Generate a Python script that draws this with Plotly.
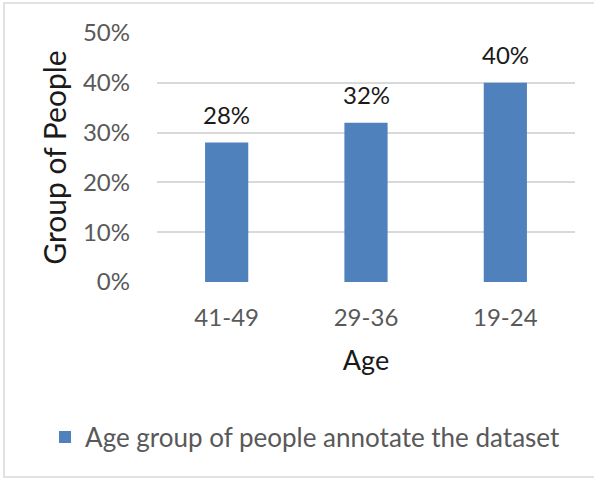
import plotly.graph_objects as go

categories = ["41-49", "29-36", "19-24"]
values = [0.28, 0.32, 0.40]
labels = ["28%", "32%", "40%"]
series_name = "Age group of people annotate the dataset"
y_ticks = [0, 0.1, 0.2, 0.3, 0.4, 0.5]
y_tick_labels = ["0%", "10%", "20%", "30%", "40%", "50%"]

FONT = "Lato"
BAR = "#4F81BD"
GRID = "#D9D9D9"
TICK = "#595959"

fig = go.Figure()
fig.add_trace(go.Bar(
    x=categories, y=values, name=series_name,
    marker=dict(color=BAR, line=dict(width=0)),
    width=0.31, showlegend=True,
))

for c, v, t in zip(categories, values, labels):
    fig.add_annotation(x=c, y=v, text=t, showarrow=False, yanchor="bottom",
                       yshift=12, font=dict(family=FONT, size=24, color="#1a1a1a"))

fig.update_layout(
    width=594, height=478,
    margin=dict(l=157, r=19, t=33, b=196),
    paper_bgcolor="white", plot_bgcolor="white",
    font=dict(family=FONT, size=24, color=TICK),
    showlegend=True,
    legend=dict(orientation="h", xref="container", yref="container",
                x=0.0758, y=0.0858, xanchor="left", yanchor="middle",
                font=dict(family=FONT, size=26, color=TICK),
                itemwidth=30, bgcolor="rgba(0,0,0,0)"),
    xaxis=dict(range=[-0.5, 2.5], showgrid=False, zeroline=False,
               showline=False, ticks="", ticklabelstandoff=19,
               tickfont=dict(family=FONT, size=24, color=TICK),
               title=dict(text="Age", standoff=21,
                          font=dict(family=FONT, size=27, color="#1a1a1a"))),
    yaxis=dict(range=[0, 0.5], tickvals=y_ticks, ticktext=y_tick_labels,
               showgrid=True, gridcolor=GRID, gridwidth=1.5,
               zeroline=False, showline=False, ticks="", ticklabelstandoff=26,
               tickfont=dict(family=FONT, size=24, color=TICK),
               title=dict(text="Group of People", standoff=7,
                          font=dict(family=FONT, size=30, color="#1a1a1a"))),
    shapes=[dict(type="rect", xref="paper", yref="paper",
                 x0=(4 - 157) / 418, x1=(596 - 157) / 418,
                 y0=(282 - 477) / 249, y1=(282 - 3) / 249,
                 line=dict(color=GRID, width=1.5), fillcolor="rgba(0,0,0,0)",
                 layer="below")],
)

fig.write_html("out.html")
